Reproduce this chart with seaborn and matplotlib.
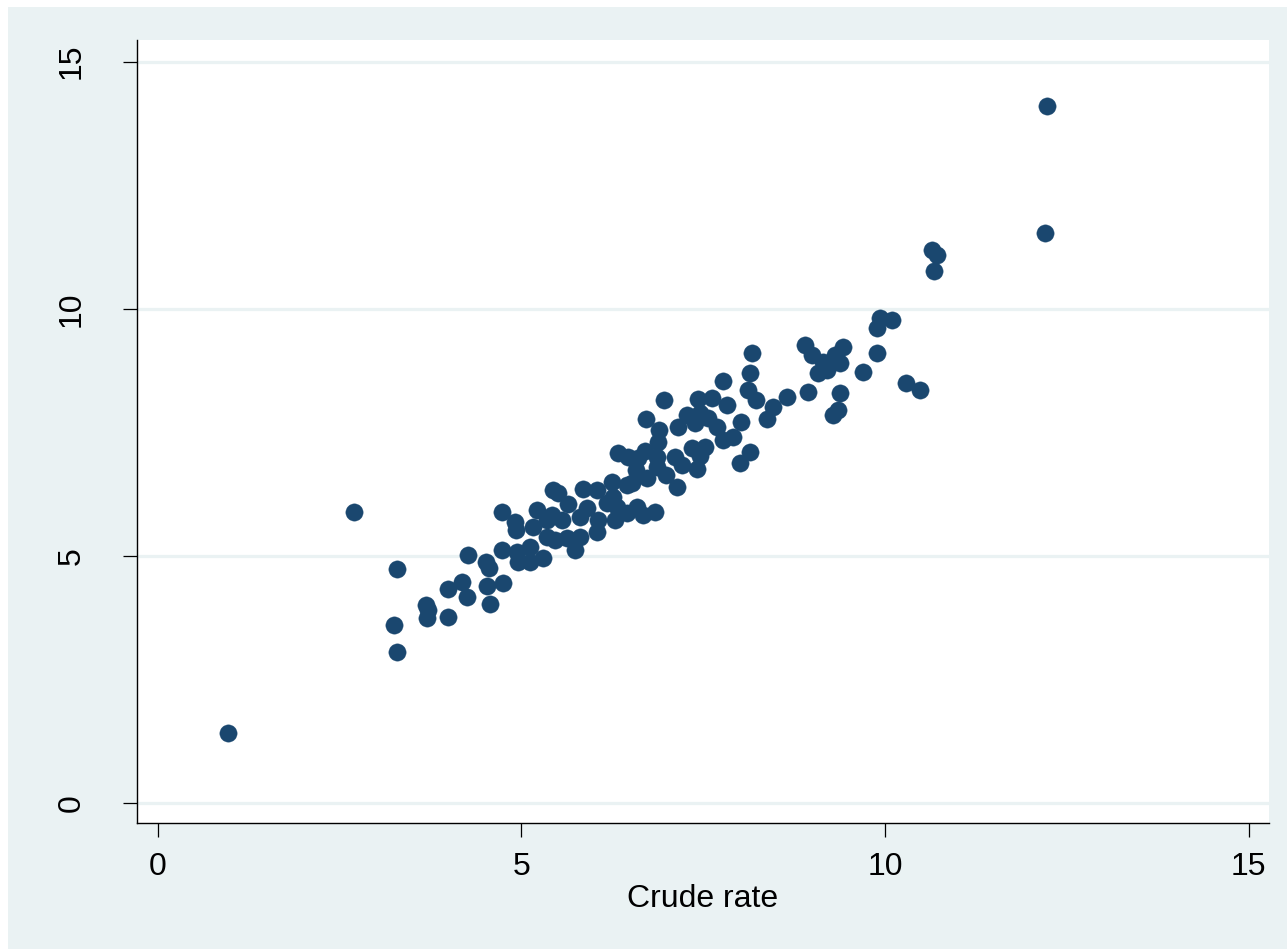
import numpy as np
import pandas as pd
import matplotlib
matplotlib.use("Agg")
import matplotlib.pyplot as plt
import seaborn as sns
from matplotlib.patches import Rectangle

# ============================================================
# Data
# ============================================================
crude_rate = [
    0.97, 2.70, 3.29, 3.25, 3.29, 3.69, 3.72, 3.70, 3.99, 3.99,
    4.18, 4.25, 4.27, 4.51, 4.56, 4.53, 4.57, 4.75, 4.73, 4.73,
    4.91, 4.93, 4.94, 4.95, 5.12, 5.12, 5.30, 5.22, 5.16, 5.35,
    5.42, 5.56, 5.44, 5.50, 5.64, 5.35, 5.46, 5.63, 5.81, 5.74,
    5.81, 5.90, 6.05, 6.04, 5.85, 6.04, 6.25, 6.26, 6.18, 6.32,
    6.29, 6.45, 6.59, 6.67, 6.84, 6.45, 6.52, 6.33, 6.47, 6.60,
    6.70, 6.87, 6.58, 6.73, 6.99, 7.14, 6.87, 7.11, 7.35, 7.53,
    7.46, 7.21, 7.42, 6.71, 6.89, 6.88, 6.96, 7.43, 7.62, 7.83,
    7.28, 7.46, 7.39, 7.15, 7.69, 7.77, 7.91, 8.02, 8.14, 8.01,
    7.77, 8.14, 8.12, 8.23, 8.17, 8.65, 8.94, 8.46, 8.38, 8.90,
    9.00, 9.42, 9.31, 9.38, 9.15, 9.20, 9.08, 9.38, 9.35, 9.29,
    9.89, 9.70, 9.89, 9.93, 10.10, 10.29, 10.48, 10.65, 10.72, 10.67,
    12.20, 12.23, 7.57,
]
age_std_rate = [
    1.42, 5.89, 4.74, 3.60, 3.06, 4.01, 3.91, 3.74, 4.33, 3.76,
    4.47, 4.17, 5.02, 4.88, 4.76, 4.39, 4.03, 4.45, 5.89, 5.12,
    5.69, 5.52, 5.08, 4.88, 5.18, 4.88, 4.96, 5.93, 5.59, 5.73,
    5.83, 5.73, 6.33, 6.27, 6.05, 5.38, 5.32, 5.36, 5.38, 5.12,
    5.79, 5.97, 5.73, 5.48, 6.35, 6.33, 6.50, 6.19, 6.07, 5.99,
    5.73, 5.87, 5.99, 5.83, 5.89, 6.44, 6.48, 7.08, 7.00, 6.98,
    7.12, 7.00, 6.74, 6.58, 6.64, 6.39, 6.80, 7.00, 7.18, 7.20,
    7.02, 6.84, 6.76, 7.77, 7.55, 7.31, 8.16, 8.18, 8.20, 8.05,
    7.85, 7.89, 7.69, 7.61, 7.61, 7.35, 7.41, 7.71, 7.10, 6.88,
    8.54, 8.70, 8.36, 8.16, 9.11, 8.22, 8.32, 8.01, 7.77, 9.27,
    9.07, 9.23, 9.07, 8.90, 8.92, 8.76, 8.70, 8.30, 7.95, 7.85,
    9.11, 8.72, 9.61, 9.81, 9.77, 8.50, 8.36, 11.19, 11.09, 10.77,
    11.53, 14.10, 7.79,
]
x_ticks = [0, 5, 10, 15]
y_ticks = [0, 5, 10, 15]
x_label = "Crude rate"

df = pd.DataFrame({"crude": crude_rate, "std": age_std_rate})

# ============================================================
# Style
# ============================================================
sns.set_style("white")
plt.rcParams["font.family"] = ["Liberation Sans", "DejaVu Sans"]

BG = "#EAF2F3"
NAVY = "#1A476F"

fig = plt.figure(figsize=(12.87, 9.49), dpi=100)
fig.patch.set_facecolor("white")
# light outer panel (white margin only at top/left), kept behind the axes
fig.add_artist(Rectangle((8 / 1287, -0.01), 1.02, 1.01 - 7 / 949,
                         transform=fig.transFigure, facecolor=BG,
                         edgecolor="none", zorder=-10))

ax = fig.add_axes([137 / 1287, 1 - 823 / 949, (1269 - 137) / 1287, (823 - 40) / 949])
ax.set_facecolor("white")

for yv in y_ticks:
    ax.axhline(yv, color=BG, lw=2.3, zorder=1)

sns.scatterplot(data=df, x="crude", y="std", ax=ax, color=NAVY, s=155,
                edgecolor=NAVY, linewidth=0.3, zorder=3, legend=False)

ax.set_xlim(-0.285, 15.28)
ax.set_ylim(-0.405, 15.44)
ax.set_xticks(x_ticks)
ax.set_yticks(y_ticks)
ax.set_xticklabels([str(t) for t in x_ticks], fontsize=23, color="black")
ax.set_yticklabels([str(t) for t in y_ticks], fontsize=23, color="black",
                   rotation=90, va="center")
ax.tick_params(axis="x", bottom=True, direction="out", length=10, width=0.9,
               pad=11, color="black")
ax.tick_params(axis="y", left=True, direction="out", length=10, width=0.9,
               pad=26, color="black")

ax.set_xlabel(x_label, fontsize=23, labelpad=1, color="black")
ax.set_ylabel("")

for side in ["top", "right"]:
    ax.spines[side].set_visible(False)
for side in ["left", "bottom"]:
    ax.spines[side].set_color("black")
    ax.spines[side].set_linewidth(1.0)

plt.savefig("out.png", dpi=100, facecolor=fig.get_facecolor())
